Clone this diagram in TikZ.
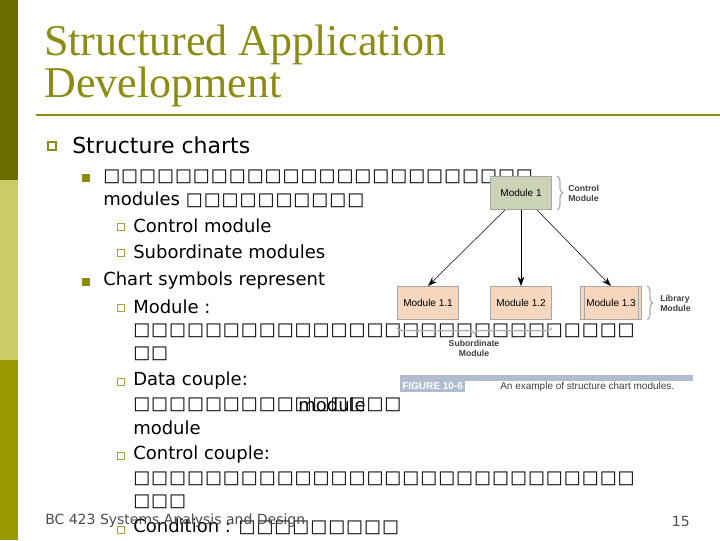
\documentclass[tikz,border=0pt]{standalone}
\usepackage{fontspec}
\setmainfont{DejaVu Sans}
\newfontfamily\titlefont{Liberation Serif}
\newfontfamily\figfont{Liberation Sans}
\usetikzlibrary{arrows.meta,decorations.pathreplacing}
\definecolor{olive}{HTML}{8C8C14}
\definecolor{darkbar}{HTML}{6B6B00}
\definecolor{lightbar}{HTML}{CCCC66}
\definecolor{midbar}{HTML}{999900}
\definecolor{ctrlfill}{HTML}{CBD3B6}
\definecolor{subfill}{HTML}{F6D6BC}
\definecolor{figblue}{HTML}{7F8FAF}
\newcommand{\bx}[1]{\foreach \i in {1,...,#1}{\symbol{"25A1}\hspace{0.7pt}}}
\begin{document}
\begin{tikzpicture}[x=0.75pt,y=-0.75pt]
        % Define styles
        \tikzstyle{txt} = [anchor=west, inner sep=0pt, font=\fontsize{13.5}{15}\selectfont]
        \tikzstyle{txtbig} = [anchor=west, inner sep=0pt, font=\fontsize{16.5}{18}\selectfont]
        \tikzstyle{module} = [rectangle, draw=gray!70, minimum width=46pt, minimum height=25pt, font=\figfont\fontsize{7.5}{8}\selectfont]
        \tikzstyle{figlabel} = [anchor=west, inner sep=0pt, align=left, text=black!75, font=\figfont\bfseries\fontsize{6.5}{7.5}\selectfont]
        \tikzstyle{line} = [draw, -{Stealth[length=7pt,width=5pt]}]
        \tikzstyle{sqbullet} = [draw=olive, line width=1pt, minimum size=6pt, inner sep=0pt]
        \tikzstyle{fbullet} = [fill=olive, minimum size=6pt, inner sep=0pt]
        \tikzstyle{sbullet} = [draw=olive!80, line width=0.8pt, minimum size=5pt, inner sep=0pt]

        % Background and side bar
        \useasboundingbox (0,0) rectangle (720,540);
        \fill[white] (0,0) rectangle (720,540);
        \fill[darkbar] (0,0) rectangle (18,180);
        \fill[lightbar] (0,180) rectangle (18,360);
        \fill[midbar] (0,360) rectangle (18,540);

        % Title
        \node[anchor=west, inner sep=0pt, text=olive, align=left, font=\titlefont\fontsize{33}{31}\selectfont] (title) at (44,66) {Structured Application\\Development};
        \draw[olive, line width=2pt] (36,115) -- (720,115);

        % Bullets
        \node[sqbullet] (b1) at (52,146) {};
        \node[txtbig] (t1) at (72,145) {Structure charts};
        \node[fbullet] (b2) at (86,178) {};
        \node[txt] (t2) at (103,177) {\bx{24}};
        \node[txt] (t2b) at (103,200) {modules \bx{10}};
        \node[sbullet] (b3) at (121,227) {};
        \node[txt] (t3) at (133,226) {Control module};
        \node[sbullet] (b4) at (121,253) {};
        \node[txt] (t4) at (133,252) {Subordinate modules};
        \node[fbullet] (b5) at (86,282) {};
        \node[txt] (t5) at (103,281) {Chart symbols represent};
        \node[sbullet] (b6) at (121,308) {};
        \node[txt] (t6) at (133,307) {Module :};
        \node[txt] (t6b) at (133,331) {\bx{28}};
        \node[txt] (t6c) at (133,354) {\bx{2}};
        \node[sbullet] (b7) at (121,382) {};
        \node[txt] (t7) at (133,381) {Data couple:};
        \node[txt] (t7b) at (133,405) {\bx{10}\bx{5}};
        \node[txt] (t7c) at (298,405) {module};
        \node[txt] (t7d) at (133,428) {module};
        \node[sbullet] (b8) at (121,456) {};
        \node[txt] (t8) at (133,455) {Control couple:};
        \node[txt] (t8b) at (133,479) {\bx{28}};
        \node[txt] (t8c) at (133,502) {\bx{3}};
        \node[sbullet] (b9) at (121,530) {};
        \node[txt] (t9) at (133,527) {Condition : \bx{9}};

        % Footer
        \node[anchor=west, inner sep=0pt, text=black!70, font=\fontsize{10.5}{12}\selectfont] (foot) at (45,521) {BC 423 Systems Analysis and Design};
        \node[anchor=east, inner sep=0pt, text=black!70, font=\fontsize{10.5}{12}\selectfont] (page) at (690,521) {15};

        % Structure chart figure
        \node[module, fill=ctrlfill] (M1) at (521,193) {Module 1};
        \node[module, fill=subfill] (M11) at (428,303) {Module 1.1};
        \node[module, fill=subfill] (M12) at (521,303) {Module 1.2};
        \node[module, fill=subfill] (M13) at (611,303) {Module 1.3};
        \draw[gray!70] ([xshift=3pt]M13.north west) -- ([xshift=3pt]M13.south west);
        \draw[gray!70] ([xshift=-3pt]M13.north east) -- ([xshift=-3pt]M13.south east);

        \draw[line] ([xshift=-12pt]M1.south) -- (M11.north);
        \draw[line] (M1.south) -- (M12.north);
        \draw[line] ([xshift=12pt]M1.south) -- (M13.north);

        \draw[gray!60, line width=1pt, decorate, decoration={brace, amplitude=4pt}] ([xshift=4pt]M1.north east) -- ([xshift=4pt]M1.south east);
        \node[figlabel] (lc) at (568,193) {Control\\Module};
        \draw[gray!60, line width=1pt, decorate, decoration={brace, amplitude=4pt}] ([xshift=4pt]M13.north east) -- ([xshift=4pt]M13.south east);
        \node[figlabel] (ll) at (660,303) {Library\\Module};
        \draw[gray!60, line width=1pt, decorate, decoration={brace, amplitude=4pt, mirror}] ([yshift=-6pt]M11.south west) -- ([yshift=-6pt]M12.south east);
        \node[figlabel, anchor=north, align=center] (ls) at (474,340) {Subordinate\\Module};

        % Caption
        \fill[figblue!60] (400,375) rectangle (693,381);
        \node[anchor=west, fill=figblue!60, text=white, inner sep=1.5pt, font=\figfont\bfseries\fontsize{7.5}{8}\selectfont] (fig) at (400,386) {FIGURE 10-6\hspace{14pt}};
        \node[anchor=west, inner sep=0pt, text=black!75, font=\figfont\fontsize{7.5}{8}\selectfont] (cap) at (500,387) {An example of structure chart modules.};
\end{tikzpicture}
\end{document}
